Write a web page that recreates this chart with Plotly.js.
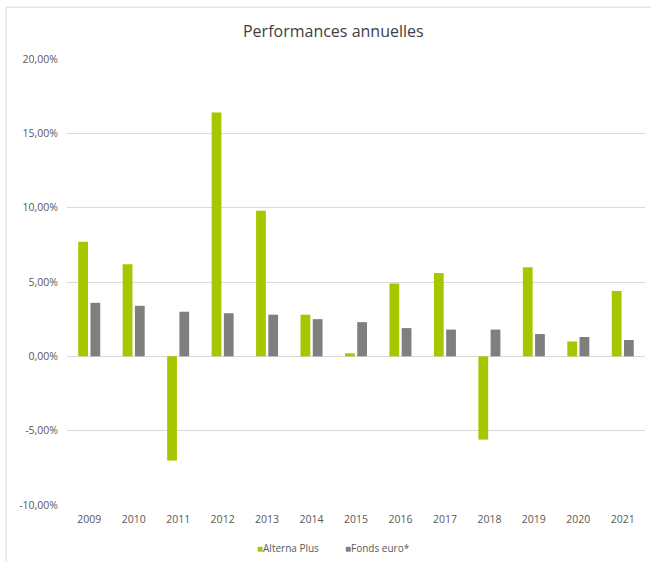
<!DOCTYPE html>
<html>
<head>
<meta charset="utf-8">
<script src="https://cdn.plot.ly/plotly-3.0.1.min.js"></script>
<style>html,body{margin:0;padding:0;background:#fff;}#chart{width:651px;height:565px;}</style>
</head>
<body>
<div id="chart"></div>
<script>
var years = ["2009","2010","2011","2012","2013","2014","2015","2016","2017","2018","2019","2020","2021"];
var alternaPlus = [7.7, 6.2, -7.0, 16.4, 9.8, 2.8, 0.2, 4.9, 5.6, -5.6, 6.0, 1.0, 4.4];
var fondsEuro = [3.6, 3.4, 3.0, 2.9, 2.8, 2.5, 2.3, 1.9, 1.8, 1.8, 1.5, 1.3, 1.1];
var yTickVals = [-10, -5, 0, 5, 10, 15, 20];
var yTickText = ["-10,00%", "-5,00%", "0,00%", "5,00%", "10,00%", "15,00%", "20,00%"];
var seriesNames = ["Alterna Plus", "Fonds euro*"];
var seriesColors = ["#a8c600", "#7f7f7f"];

var font = "Open Sans, Liberation Sans, sans-serif";
var textColor = "#595959";

var traces = [
  {type: "bar", name: seriesNames[0], x: years, y: alternaPlus, marker: {color: seriesColors[0]}},
  {type: "bar", name: seriesNames[1], x: years, y: fondsEuro, marker: {color: seriesColors[1]}}
];

// legend drawn as text annotations (square glyph tight against the label, as in the original)
var legendX = [0.326, 0.477];
var annotations = seriesNames.map(function (n, i) {
  return {
    xref: "paper", yref: "paper", x: legendX[i], y: -0.097, xanchor: "left", yanchor: "middle",
    showarrow: false,
    text: "<span style='color:" + seriesColors[i] + "'>■</span>" + n,
    font: {family: font, size: 10, color: textColor}
  };
});

var layout = {
  width: 651, height: 565,
  margin: {l: 67, r: 6, t: 59, b: 60},
  paper_bgcolor: "#fff", plot_bgcolor: "#fff",
  title: {text: "Performances annuelles", font: {family: font, size: 16, color: "#404040"}, x: 0.512, xanchor: "center", y: 0.945, yanchor: "middle"},
  barmode: "group",
  bargap: 0.45,
  bargroupgap: 0.2,
  showlegend: false,
  annotations: annotations,
  xaxis: {type: "category", tickfont: {family: font, size: 10.5, color: textColor}, showgrid: false, zeroline: false, showline: false, ticks: "", ticklabelstandoff: 6},
  yaxis: {range: [-10, 20], tickvals: yTickVals, ticktext: yTickText, tickfont: {family: font, size: 10.5, color: textColor}, showgrid: true, gridcolor: "#d9d9d9", gridwidth: 1, zeroline: true, zerolinecolor: "#d9d9d9", zerolinewidth: 1, showline: false, ticks: "", ticklabelstandoff: 8, fixedrange: true},
  shapes: [
    {type: "line", xref: "paper", yref: "paper", x0: -0.1055, x1: 1.02, y0: 1.116, y1: 1.116, line: {color: "#d9d9d9", width: 1}},
    {type: "line", xref: "paper", yref: "paper", x0: -0.1055, x1: -0.1055, y0: 1.116, y1: -0.1273, line: {color: "#d9d9d9", width: 1}}
  ]
};

Plotly.newPlot("chart", traces, layout, {displayModeBar: false, staticPlot: true});
</script>
</body>
</html>
